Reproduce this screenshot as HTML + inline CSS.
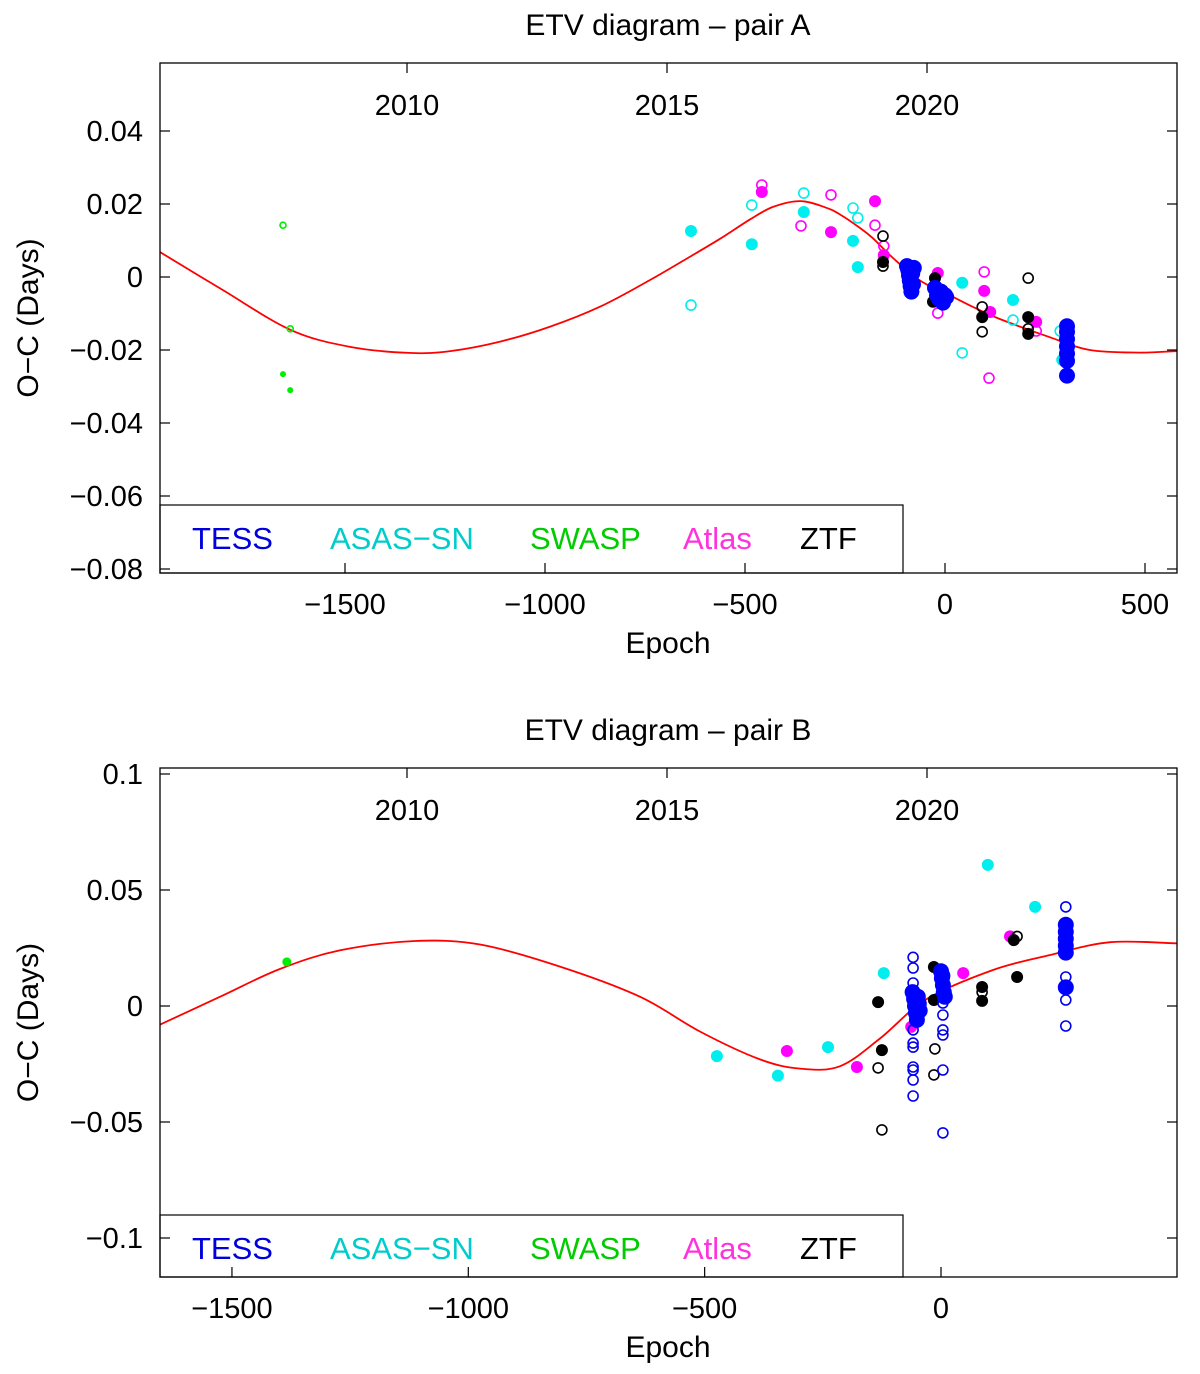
<!DOCTYPE html>
<html><head><meta charset="utf-8"><style>
body{margin:0;background:#fff}
svg{display:block}
text{font-family:"Liberation Sans",sans-serif}
</style></head><body>
<svg id="fig" width="1200" height="1374" viewBox="0 0 1200 1374" xmlns="http://www.w3.org/2000/svg"></svg>
<script>
// ---------- Panel A data ([epoch, O-C]) ----------
const aCurve=[[-1962,0.0068],[-1805,-0.0036],[-1636,-0.0145],[-1489,-0.0191],[-1340,-0.0208],[-1237,-0.0203],[-1112,-0.0177],[-987,-0.0136],[-862,-0.0081],[-737,-0.0008],[-637,0.0056],[-562,0.0105],[-487,0.0158],[-430,0.0192],[-362,0.0208],[-300,0.0191],[-262,0.0171],[-212,0.0134],[-180,0.0106],[-130,0.0052],[-62,-0.001],[12,-0.005],[70,-0.0082],[137,-0.0115],[262,-0.0165],[362,-0.02],[487,-0.0207],[580,-0.0203]];
const aTessF=[[-95,0.003],[-92,0.002],[-90,0.0005],[-88,-0.001],[-86,-0.0025],[-84,-0.004],[-82,0.001],[-80,-0.002],[-78,0.0025],[-25,-0.003],[-20,-0.005],[-15,-0.006],[-10,-0.004],[-5,-0.007],[0,-0.005],[3,-0.0055],[305,-0.0135],[305,-0.015],[305,-0.017],[305,-0.019],[305,-0.021],[305,-0.023],[305,-0.027]];
const aCyanF=[[-635,0.0126],[-483,0.009],[-353,0.0178],[-230,0.0099],[-218,0.0027],[43,-0.0016],[170,-0.0063],[293,-0.0227]];
const aCyanO=[[-635,-0.0077],[-483,0.0197],[-353,0.023],[-230,0.0189],[-218,0.0162],[43,-0.0208],[170,-0.0118],[288,-0.0148]];
const aSwaspF=[[-1655,-0.0266],[-1637,-0.031]];
const aSwaspO=[[-1655,0.0142],[-1637,-0.0142]];
const aMagF=[[-458,0.0233],[-285,0.0123],[-175,0.0208],[-153,0.006],[-18,0.0011],[98,-0.0038],[113,-0.0096],[228,-0.0123]];
const aMagO=[[-458,0.0252],[-360,0.014],[-285,0.0225],[-175,0.0142],[-153,0.0085],[-18,-0.0099],[98,0.0014],[110,-0.0277],[228,-0.0148]];
const aZtfF=[[-155,0.0041],[-25,-0.0003],[-30,-0.0068],[93,-0.011],[208,-0.011],[208,-0.0156]];
const aZtfO=[[-155,0.0112],[-155,0.003],[93,-0.0082],[93,-0.015],[208,-0.0003],[208,-0.0142]];
const aXTicks=[-1500,-1000,-500,0,500];
const aYTicks=[0.04,0.02,0,-0.02,-0.04,-0.06,-0.08];
const aYLabels=["0.04","0.02","0","−0.02","−0.04","−0.06","−0.08"];
// ---------- Panel B data ----------
const bCurve=[[-1652,-0.008],[-1525,0.004],[-1398,0.016],[-1271,0.024],[-1113,0.028],[-975,0.0265],[-806,0.017],[-637,0.004],[-510,-0.011],[-383,-0.023],[-298,-0.027],[-214,-0.026],[-129,-0.014],[-30,0.003],[110,0.0155],[231,0.022],[358,0.0275],[499,0.027]];
const bTessF=[[-60,0.006],[-57,0.003],[-55,0.0],[-53,-0.003],[-51,-0.006],[-49,0.004],[-47,0.001],[-45,-0.002],[0,0.015],[2,0.012],[4,0.009],[6,0.006],[8,0.004],[3,0.013],[264,0.035],[264,0.032],[264,0.029],[264,0.026],[264,0.023],[264,0.008]];
const bTessO=[[-59,0.021],[-59,0.0164],[-59,0.0099],[-59,-0.0103],[-59,-0.016],[-59,-0.0177],[-59,-0.0263],[-59,-0.0276],[-59,-0.0319],[-59,-0.0388],[4,0.0013],[4,-0.0039],[4,-0.0103],[4,-0.0125],[4,-0.0276],[4,-0.0547],[264,0.0427],[264,0.0125],[264,0.0026],[264,-0.0086]];
const bCyanF=[[-474,-0.0216],[-345,-0.030],[-239,-0.0177],[-121,0.0142],[99,0.0608],[199,0.0427]];
const bSwaspF=[[-1384,0.019]];
const bMagF=[[-326,-0.0194],[-178,-0.0263],[-63,-0.009],[47,0.0142],[146,0.030]];
const bZtfF=[[-133,0.0017],[-125,-0.019],[-15,0.0168],[-15,0.0026],[87,0.0082],[87,0.0022],[154,0.0284],[161,0.0125]];
const bZtfO=[[-133,-0.0267],[-125,-0.0534],[-13,-0.0185],[-15,-0.0297],[87,0.006],[161,0.030]];
const bXTicks=[-1500,-1000,-500,0];
const bYTicks=[0.1,0.05,0,-0.05,-0.1];
const bYLabels=["0.1","0.05","0","−0.05","−0.1"];
const yearLabels=["2010","2015","2020"];

const NS="http://www.w3.org/2000/svg";
const svg=document.getElementById('fig');
function mk(tag,attrs,parent){const e=document.createElementNS(NS,tag);for(const k in attrs)e.setAttribute(k,attrs[k]);(parent||svg).appendChild(e);return e;}

function smoothPath(P){
  let d='M'+P[0][0].toFixed(1)+' '+P[0][1].toFixed(1);
  for(let i=0;i<P.length-1;i++){
    const p0=P[Math.max(i-1,0)],p1=P[i],p2=P[i+1],p3=P[Math.min(i+2,P.length-1)];
    const c1x=p1[0]+(p2[0]-p0[0])/6,c1y=p1[1]+(p2[1]-p0[1])/6;
    const c2x=p2[0]-(p3[0]-p1[0])/6,c2y=p2[1]-(p3[1]-p1[1])/6;
    d+=' C'+c1x.toFixed(1)+' '+c1y.toFixed(1)+' '+c2x.toFixed(1)+' '+c2y.toFixed(1)+' '+p2[0].toFixed(1)+' '+p2[1].toFixed(1);
  }
  return d;
}

function panel(cfg){
  const g=mk('g',{});
  
  
  const L=160,R=1177,T=cfg.top,B=cfg.bottom;
  const sx=v=>cfg.x0px+(v-cfg.x0v)*cfg.pxPer;
  const sy=v=>cfg.y0px-v*cfg.pyPer;
  const clip=mk('clipPath',{id:cfg.name+'-clip'},g);
  mk('rect',{x:L,y:T,width:R-L,height:B-T},clip);
  const t=mk('text',{x:668,y:cfg.titleY,'font-size':30,'text-anchor':'middle'},g);
  t.textContent=cfg.title;
  
  
  const data=mk('g',{'clip-path':'url(#'+cfg.name+'-clip)'},g);
  const c=mk('path',{d:smoothPath(cfg.curve.map(p=>[sx(p[0]),sy(p[1])])),fill:'none',stroke:'#ff0000','stroke-width':1.8,'stroke-linejoin':'round'},data);
  
  
  cfg.series.forEach(s=>{
    const sg=mk('g',{},data);
    
    
    s.pts.forEach(p=>{
      const ci=mk('circle',{cx:sx(p[0]).toFixed(1),cy:sy(p[1]).toFixed(1),r:s.r,fill:s.fill?s.col:'none',stroke:s.col,'stroke-width':s.fill?0:1.6},sg);
      
      
    });
  });
  const lg=mk('g',{},g);
  
  
  mk('rect',{x:L,y:cfg.legTop,width:903-L,height:B-cfg.legTop,fill:'#fff',stroke:'#000','stroke-width':1.2},lg);
  const entries=[['TESS','#0000dd',192],['ASAS−SN','#00cccc',330],['SWASP','#00cc00',530],['Atlas','#ff33dd',683],['ZTF','#000',800]];
  entries.forEach(e=>{
    const tx=mk('text',{x:e[2],y:cfg.legTop+44,'font-size':31,fill:e[1]},lg);
    tx.textContent=e[0];
    
    
  });
  mk('rect',{x:L,y:T,width:R-L,height:B-T,fill:'none',stroke:'#000','stroke-width':1.3},g);
  cfg.xTicks.forEach(v=>{
    const X=sx(v);
    mk('line',{x1:X,y1:B,x2:X,y2:B-10,stroke:'#000','stroke-width':1.2},g);
    const tl=mk('text',{x:X,y:B+41,'font-size':29,'text-anchor':'middle'},g);
    tl.textContent=v<0?'−'+(-v):String(v);
    
    
  });
  cfg.yTicks.forEach((v,i)=>{
    const Y=sy(v);
    mk('line',{x1:L,y1:Y,x2:L+10,y2:Y,stroke:'#000','stroke-width':1.2},g);
    mk('line',{x1:R,y1:Y,x2:R-10,y2:Y,stroke:'#000','stroke-width':1.2},g);
    const tl=mk('text',{x:143,y:Y+10,'font-size':29,'text-anchor':'end'},g);
    tl.textContent=cfg.yLabels[i];
    
    
  });
  [407,667,927].forEach((X,i)=>{
    mk('line',{x1:X,y1:T,x2:X,y2:T+10,stroke:'#000','stroke-width':1.2},g);
    const tl=mk('text',{x:X,y:T+52,'font-size':29,'text-anchor':'middle'},g);
    tl.textContent=yearLabels[i];
    
    
  });
  const xl=mk('text',{x:668,y:B+80,'font-size':30,'text-anchor':'middle'},g);
  xl.textContent='Epoch';
  
  
  const cy=(T+B)/2;
  const yl=mk('text',{x:38,y:cy,'font-size':30,'text-anchor':'middle',transform:'rotate(-90 38 '+cy+')'},g);
  yl.textContent='O−C (Days)';
  
  
}

panel({name:'panel-pair-a',title:'ETV diagram  – pair A',titleY:35,top:63,bottom:573,legTop:505,
  x0v:0,x0px:945,pxPer:0.4,y0px:277,pyPer:3650,curve:aCurve,xTicks:aXTicks,yTicks:aYTicks,yLabels:aYLabels,
  series:[
   {name:'swasp-open',pts:aSwaspO,col:'#00ee00',fill:false,r:3},
   {name:'swasp-filled',pts:aSwaspF,col:'#00ee00',fill:true,r:3},
   {name:'asassn-open',pts:aCyanO,col:'#00eeee',fill:false,r:5},
   {name:'asassn-filled',pts:aCyanF,col:'#00eeee',fill:true,r:6},
   {name:'atlas-open',pts:aMagO,col:'#ff00ff',fill:false,r:5},
   {name:'atlas-filled',pts:aMagF,col:'#ff00ff',fill:true,r:6},
   {name:'ztf-open',pts:aZtfO,col:'#000',fill:false,r:5},
   {name:'ztf-filled',pts:aZtfF,col:'#000',fill:true,r:6},
   {name:'tess-filled',pts:aTessF,col:'#0000ff',fill:true,r:8}]});

panel({name:'panel-pair-b',title:'ETV diagram  – pair B',titleY:740,top:768,bottom:1277,legTop:1215,
  x0v:0,x0px:941,pxPer:0.4727,y0px:1006,pyPer:2320,curve:bCurve,xTicks:bXTicks,yTicks:bYTicks,yLabels:bYLabels,
  series:[
   {name:'swasp-filled',pts:bSwaspF,col:'#00ee00',fill:true,r:4.5},
   {name:'asassn-filled',pts:bCyanF,col:'#00eeee',fill:true,r:6},
   {name:'atlas-filled',pts:bMagF,col:'#ff00ff',fill:true,r:6},
   {name:'ztf-open',pts:bZtfO,col:'#000',fill:false,r:5},
   {name:'ztf-filled',pts:bZtfF,col:'#000',fill:true,r:6},
   {name:'tess-open',pts:bTessO,col:'#0000ee',fill:false,r:5},
   {name:'tess-filled',pts:bTessF,col:'#0000ff',fill:true,r:8}]});
</script>
</body></html>
